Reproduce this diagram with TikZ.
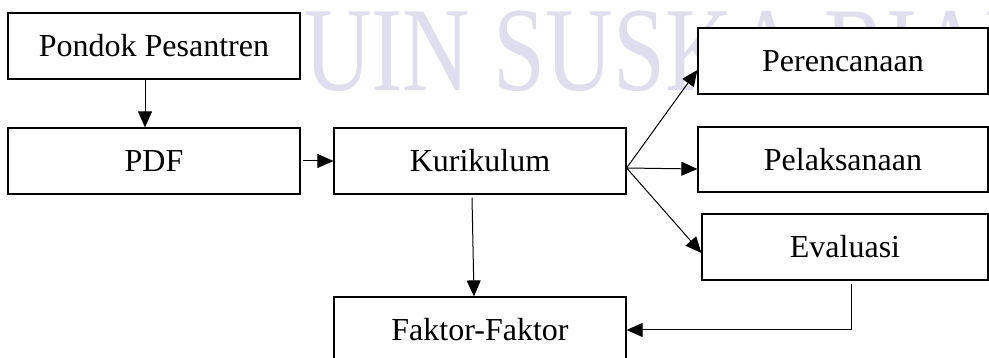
\documentclass[tikz,border=0pt]{standalone}
\usepackage{fontspec}
\setmainfont{Liberation Serif}
\usetikzlibrary{arrows.meta}
\definecolor{wmark}{RGB}{222,222,238}

\begin{document}
\begin{tikzpicture}[x=1pt,y=-1pt,
  box/.style={draw,fill=white,line width=1.2pt,inner sep=0pt,
    minimum width=292pt,minimum height=66pt,font=\fontsize{32}{38}\selectfont},
  arr/.style={line width=1pt,-{Triangle[length=16pt,width=14pt]}}]
  \useasboundingbox (0,0) rectangle (989,358);
  \clip (0,0) rectangle (989,358);
  \node[anchor=base west,inner sep=0pt,text=wmark,font=\fontsize{120}{120}\selectfont]
    (watermark) at (304,91) {\scalebox{0.78}[1]{UIN SUSKA RIAU}};
  \node[box](pondok) at (154,46) {Pondok Pesantren};
  \node[box](pdf) at (154,161) {PDF};
  \node[box](kurikulum) at (480,161) {Kurikulum};
  \node[box,minimum width=290pt](perencanaan) at (843,61) {Perencanaan};
  \node[box,minimum width=290pt,minimum height=65pt](pelaksanaan) at (843,159.5) {Pelaksanaan};
  \node[box,minimum width=286pt](evaluasi) at (845,247) {Evaluasi};
  \node[box](faktor) at (480,330) {Faktor-Faktor};
  \coordinate (fan) at ([yshift=-7pt]kurikulum.east);
  \draw[arr] ([xshift=-9pt]pondok.south) -- ([xshift=-9pt]pdf.north);
  \draw[arr] ([xshift=2pt]pdf.east) -- (kurikulum.west);
  \draw[arr] (fan) -- ([yshift=-9pt]perencanaan.west);
  \draw[arr] (fan) -- ([yshift=-9.5pt]pelaksanaan.west);
  \draw[arr] (fan) -- ([yshift=-6pt]evaluasi.west);
  \draw[arr] ([xshift=-8pt,yshift=-3pt]kurikulum.south) -- ([xshift=-6pt]faktor.north);
  \draw[arr] ([xshift=6pt,yshift=-3pt]evaluasi.south) |- (faktor.east);
\end{tikzpicture}
\end{document}
